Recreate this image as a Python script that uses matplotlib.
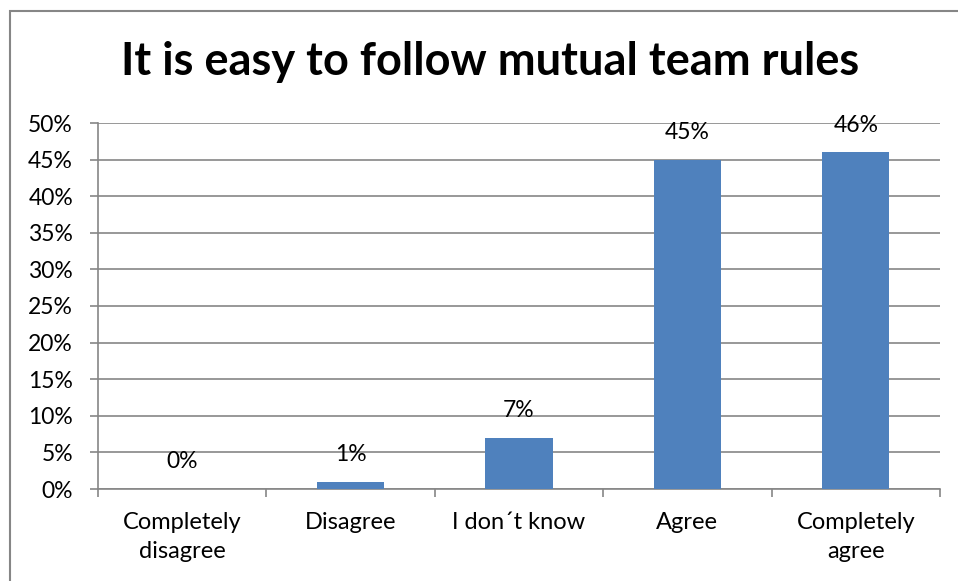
import matplotlib.pyplot as plt
import matplotlib.patches as mpatches
import numpy as np
from matplotlib.ticker import FuncFormatter, MultipleLocator, FixedLocator

categories = ['Completely\ndisagree', 'Disagree', 'I don\u00b4t know', 'Agree', 'Completely\nagree']
values = [0, 1, 7, 45, 46]
title = 'It is easy to follow mutual team rules'

plt.rcParams['font.family'] = ['Lato', 'DejaVu Sans']

fig = plt.figure(figsize=(9.58, 5.81), dpi=100)
W, H = 958, 581
ax = fig.add_axes([98 / W, (H - 489) / H, (940 - 98) / W, (489 - 123) / H])

x = np.arange(len(categories))
bars = ax.bar(x, values, width=0.4, color='#4F81BD', zorder=3)

for xi, v in zip(x, values):
    ax.annotate(f'{v}%', (xi, v), xytext=(0, 19.5), textcoords='offset points',
                ha='center', va='center', fontsize=16.5)

ax.set_xlim(-0.5, len(categories) - 0.5)
ax.set_ylim(0, 50)
ax.yaxis.set_major_locator(MultipleLocator(5))
ax.yaxis.set_major_formatter(FuncFormatter(lambda v, p: f'{v:.0f}%'))
ax.grid(axis='y', color='#868686', linewidth=1.2, zorder=0)

ax.set_xticks(x)
ax.set_xticklabels(categories, fontsize=17, linespacing=1.5)
ax.xaxis.set_minor_locator(FixedLocator(np.arange(-0.5, len(categories), 1)))
ax.tick_params(axis='x', which='major', length=0, pad=16.5)
ax.tick_params(axis='x', which='minor', length=6, color='#868686', width=1.2, direction='out')
ax.tick_params(axis='y', length=6, color='#868686', width=1.2, pad=12, labelsize=16.5)

for side in ['top', 'right']:
    ax.spines[side].set_visible(False)
for side in ['left', 'bottom']:
    ax.spines[side].set_color('#868686')
    ax.spines[side].set_linewidth(1.2)

fig.text(490 / W, (H - 62) / H, title, ha='center', va='center',
         fontsize=32.5, fontweight='bold')

# outer chart border
fig.patches.append(mpatches.Rectangle((10 / W, -0.1), 1.1, (H - 10.5) / H + 0.1,
                                      transform=fig.transFigure, fill=False,
                                      edgecolor='#868686', linewidth=1.5))

fig.savefig('out.png', dpi=100)
